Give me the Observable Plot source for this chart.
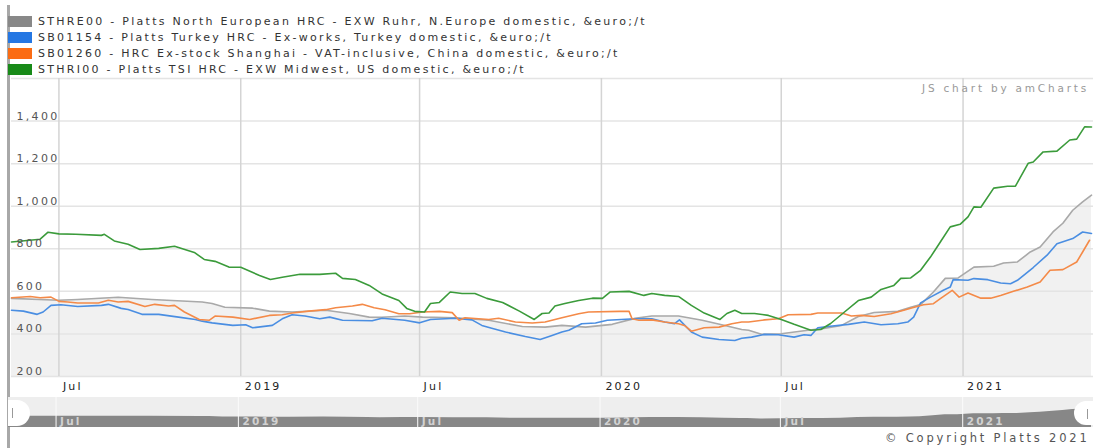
<!DOCTYPE html>
<html><head><meta charset="utf-8">
<script src="https://cdn.jsdelivr.net/npm/d3@7"></script>
<script src="https://cdn.jsdelivr.net/npm/@observablehq/plot@0.6"></script>
<style>
html,body{margin:0;padding:0;background:#fff;}
body{width:1093px;height:448px;overflow:hidden;position:relative;font-family:"DejaVu Sans",Verdana,sans-serif;}
.abs{position:absolute;}
.leg{position:absolute;left:38px;font-size:11px;letter-spacing:2.28px;color:#333;white-space:nowrap;line-height:12px;}
.sw{position:absolute;left:8px;width:24px;height:11px;}
#border{left:7px;top:5px;width:3px;height:443px;background:#a8a8a8;}
#credit{left:922px;top:82px;font-size:10.5px;letter-spacing:2.8px;color:#999;white-space:nowrap;}
#copy{left:885px;top:431px;font-size:11.5px;letter-spacing:2.8px;color:#555;white-space:nowrap;}
.handle{position:absolute;background:#fff;}
.handle i{position:absolute;top:8px;width:1px;height:10px;background:#999;}
g[aria-description="ylab"] text{letter-spacing:2.3px;}
g[aria-description="xlab"] text{letter-spacing:2.2px;}
g[aria-description="slab"] text{letter-spacing:2.2px;}
</style></head>
<body>
<div id="border" class="abs"></div>
<div id="legend"></div>
<div id="main" class="abs" style="left:11px;top:78px;"></div>
<div id="scroll" class="abs" style="left:8px;top:397px;"></div>
<div class="handle" style="left:8px;top:400px;width:22px;height:26px;border-radius:0 13px 13px 0;"><i style="left:4px"></i></div>
<div class="handle" style="left:1074px;top:401px;width:22px;height:24px;border-radius:12px 0 0 12px;"><i style="left:13px"></i></div>
<div id="credit" class="abs">JS chart by amCharts</div>
<div id="copy" class="abs">© Copyright Platts 2021</div>
<script>
// ---- data ----
const seriesNames = [
  "STHRE00 - Platts North European HRC - EXW Ruhr, N.Europe domestic, &euro;/t",
  "SB01154 - Platts Turkey HRC - Ex-works, Turkey domestic, &euro;/t",
  "SB01260 - HRC Ex-stock Shanghai - VAT-inclusive, China domestic, &euro;/t",
  "STHRI00 - Platts TSI HRC - EXW Midwest, US domestic, &euro;/t"
];
const swatchColors = ["#888888", "#2577e3", "#fb6c13", "#188a18"];
const lineColors = ["#a9a9a9", "#4a8ee2", "#f48a48", "#3b9b3b"];

const grayNE = [["2018-05-14",567],["2018-07-01",558],["2018-07-20",562],["2018-08-30",572],["2018-10-03",562],["2018-11-23",550],["2018-12-03",543],["2018-12-16",525],["2019-01-13",521],["2019-01-30",507],["2019-02-22",503],["2019-03-28",511],["2019-04-21",496],["2019-05-11",479],["2019-05-24",478],["2019-06-16",484],["2019-07-04",479],["2019-08-06",476],["2019-09-09",464],["2019-10-13",435],["2019-11-05",432],["2019-11-22",440],["2019-12-16",432],["2020-01-12",445],["2020-02-04",473],["2020-02-21",484],["2020-03-19",484],["2020-04-12",464],["2020-05-05",440],["2020-05-22",421],["2020-05-29",417],["2020-06-11",398],["2020-07-01",401],["2020-07-28",417],["2020-08-13",426],["2020-08-31",440],["2020-09-17",482],["2020-10-03",501],["2020-10-27",506],["2020-11-09",525],["2020-11-19",538],["2020-12-02",597],["2020-12-14",661],["2020-12-27",663],["2021-01-12",714],["2021-02-01",718],["2021-02-11",733],["2021-02-25",738],["2021-03-10",785],["2021-03-20",808],["2021-04-02",879],["2021-04-12",920],["2021-04-22",981],["2021-05-02",1020],["2021-05-11",1052]];

const blueTR = [["2018-05-14",511],["2018-05-26",507],["2018-06-09",492],["2018-06-15",503],["2018-06-23",534],["2018-07-03",537],["2018-07-20",529],["2018-08-13",534],["2018-08-20",539],["2018-09-02",520],["2018-09-09",515],["2018-09-23",492],["2018-10-10",492],["2018-10-30",479],["2018-11-16",468],["2018-11-23",460],["2018-12-03",452],["2018-12-24",440],["2019-01-06",443],["2019-01-13",429],["2019-02-02",440],["2019-02-12",471],["2019-02-22",490],["2019-03-07",484],["2019-03-22",471],["2019-04-01",479],["2019-04-14",464],["2019-05-14",462],["2019-05-24",474],["2019-06-16",464],["2019-07-01",452],["2019-07-12",468],["2019-08-06",474],["2019-08-23",466],["2019-09-02",440],["2019-09-12",427],["2019-09-26",409],["2019-10-16",388],["2019-10-31",374],["2019-11-12",393],["2019-11-22",409],["2019-11-29",417],["2019-12-12",448],["2019-12-26",451],["2020-01-07",464],["2020-02-04",471],["2020-02-21",471],["2020-03-05",456],["2020-03-15",448],["2020-03-20",466],["2020-04-01",409],["2020-04-12",385],["2020-04-29",374],["2020-05-15",369],["2020-05-22",380],["2020-06-01",385],["2020-06-14",398],["2020-06-28",396],["2020-07-14",385],["2020-07-24",396],["2020-07-31",393],["2020-08-07",429],["2020-08-17",435],["2020-09-07",445],["2020-09-23",456],["2020-10-10",443],["2020-10-27",448],["2020-11-06",456],["2020-11-12",479],["2020-11-19",546],["2020-11-29",573],["2020-12-12",605],["2020-12-19",620],["2020-12-22",655],["2021-01-06",652],["2021-01-12",660],["2021-01-26",655],["2021-02-08",639],["2021-02-18",636],["2021-02-25",652],["2021-03-13",712],["2021-03-27",770],["2021-04-06",824],["2021-04-22",848],["2021-05-02",879],["2021-05-11",872]];

const orangeCN = [["2018-05-14",570],["2018-06-02",576],["2018-06-12",570],["2018-06-23",573],["2018-07-01",553],["2018-07-10",550],["2018-07-20",545],["2018-08-10",545],["2018-08-20",558],["2018-08-30",550],["2018-09-09",553],["2018-09-26",529],["2018-10-06",539],["2018-10-20",531],["2018-10-26",534],["2018-11-05",503],["2018-11-20",468],["2018-11-30",464],["2018-12-06",484],["2018-12-24",479],["2019-01-10",468],["2019-01-30",487],["2019-02-12",490],["2019-02-22",498],["2019-03-11",507],["2019-03-28",514],["2019-04-07",523],["2019-04-24",531],["2019-05-04",539],["2019-05-16",523],["2019-05-27",514],["2019-06-10",495],["2019-06-21",495],["2019-07-04",503],["2019-07-21",506],["2019-08-03",500],["2019-08-10",464],["2019-08-16",476],["2019-09-09",468],["2019-09-19",474],["2019-10-06",456],["2019-10-23",451],["2019-11-05",456],["2019-11-22",476],["2019-12-09",495],["2019-12-19",503],["2020-01-19",506],["2020-01-29",506],["2020-02-01",471],["2020-02-08",464],["2020-02-21",466],["2020-03-05",456],["2020-03-19",448],["2020-03-25",440],["2020-04-01",413],["2020-04-14",429],["2020-04-29",432],["2020-05-12",448],["2020-05-22",456],["2020-05-29",456],["2020-06-14",466],["2020-06-28",471],["2020-07-08",490],["2020-07-31",492],["2020-08-07",498],["2020-08-31",498],["2020-09-10",484],["2020-09-20",487],["2020-10-03",482],["2020-10-20",495],["2020-11-02",511],["2020-11-09",521],["2020-11-22",537],["2020-12-02",542],["2020-12-09",566],["2020-12-21",605],["2020-12-28",573],["2021-01-06",592],["2021-01-19",568],["2021-01-29",568],["2021-02-08",581],["2021-02-21",600],["2021-03-07",620],["2021-03-20",644],["2021-03-30",699],["2021-04-12",702],["2021-04-26",738],["2021-05-02",785],["2021-05-09",840]];

const greenUS = [["2018-05-14",832],["2018-06-12",845],["2018-06-20",878],["2018-07-01",870],["2018-07-18",868],["2018-08-13",863],["2018-08-16",868],["2018-08-26",837],["2018-09-09",821],["2018-09-21",797],["2018-10-10",802],["2018-10-26",812],["2018-11-15",783],["2018-11-25",750],["2018-12-06",741],["2018-12-20",714],["2019-01-01",713],["2019-01-20",675],["2019-01-31",656],["2019-02-12",666],["2019-03-02",680],["2019-03-22",680],["2019-04-07",685],["2019-04-14",661],["2019-04-27",656],["2019-05-11",628],["2019-05-24",588],["2019-06-10",557],["2019-06-18",520],["2019-06-26",506],["2019-07-06",503],["2019-07-12",543],["2019-07-21",548],["2019-08-01",597],["2019-08-13",590],["2019-08-26",590],["2019-09-07",567],["2019-09-23",548],["2019-10-10",507],["2019-10-25",468],["2019-11-02",496],["2019-11-09",498],["2019-11-15",531],["2019-11-25",543],["2019-12-09",557],["2019-12-23",568],["2020-01-02",567],["2020-01-10",597],["2020-01-29",600],["2020-02-13",581],["2020-02-21",590],["2020-03-05",581],["2020-03-19",576],["2020-04-01",534],["2020-04-14",498],["2020-04-30",468],["2020-05-07",496],["2020-05-15",511],["2020-05-22",496],["2020-06-04",496],["2020-06-18",487],["2020-07-01",468],["2020-07-14",445],["2020-07-31",417],["2020-08-10",421],["2020-08-20",449],["2020-09-03",503],["2020-09-17",557],["2020-09-30",573],["2020-10-10",609],["2020-10-23",628],["2020-10-30",661],["2020-11-09",663],["2020-11-19",699],["2020-11-29",761],["2020-12-09",832],["2020-12-19",903],["2020-12-29",915],["2021-01-06",950],["2021-01-12",997],["2021-01-19",995],["2021-02-01",1085],["2021-02-15",1094],["2021-02-23",1094],["2021-03-08",1202],["2021-03-13",1208],["2021-03-23",1255],["2021-04-06",1259],["2021-04-19",1311],["2021-04-26",1315],["2021-05-04",1373],["2021-05-11",1372]];

const yTicks = [200, 400, 600, 800, 1000, 1200, 1400];
const xTickDates = ["2018-07-01","2019-01-01","2019-07-01","2020-01-01","2020-07-01","2021-01-01"];
const xTickLabels = ["Jul","2019","Jul","2020","Jul","2021"];
const xStart = "2018-05-14", xEnd = "2021-05-13";

// ---- build ----
const toRows = (arr, k) => arr.map(([d, v]) => ({date: new Date(d), value: v, k}));
const all = [grayNE, blueTR, orangeCN, greenUS].map((a, i) => toRows(a, i));
const xDomain = [new Date(xStart), new Date(xEnd)];
const ticks = xTickDates.map((d, i) => ({date: new Date(d), label: xTickLabels[i], year: /^\d{4}$/.test(xTickLabels[i])}));
const F = '"DejaVu Sans", Verdana, sans-serif';

// legend
const legend = document.getElementById("legend");
seriesNames.forEach((n, i) => {
  const cy = 21.5 + i * 16;
  const sw = document.createElement("div");
  sw.className = "sw"; sw.style.top = (cy - 5.5) + "px"; sw.style.background = swatchColors[i];
  legend.appendChild(sw);
  const t = document.createElement("div");
  t.className = "leg"; t.style.top = (cy - 6) + "px"; t.textContent = n;
  legend.appendChild(t);
});

const main = Plot.plot({
  width: 1082, height: 320,
  marginTop: 0, marginBottom: 22, marginLeft: 0, marginRight: 0,
  x: {type: "utc", domain: xDomain, axis: null},
  y: {domain: [200, 1600], axis: null},
  style: {fontFamily: F, background: "transparent", overflow: "visible"},
  marks: [
    Plot.areaY(all[0], {x: "date", y1: 200, y2: "value", fill: "#f1f1f1"}),
    Plot.ruleY(yTicks.concat([1600]), {stroke: "#e4e4e4", strokeWidth: 1.5}),
    Plot.ruleX(ticks, {x: "date", stroke: "#d4d4d4", strokeWidth: 1.5}),
    ...[0, 1, 2, 3].map(i => Plot.line(all[i], {x: "date", y: "value", stroke: lineColors[i], strokeWidth: 1.6})),
    Plot.text(yTicks, {x: () => xDomain[0], y: d => d, text: d => d3.format(",")(d), dx: 5, dy: -5, textAnchor: "start", lineAnchor: "middle", fontSize: 11, fill: "#555", ariaDescription: "ylab"}),
    Plot.text(ticks, {x: "date", frameAnchor: "bottom", text: "label", dx: 4, dy: 10, textAnchor: "start", lineAnchor: "middle", fontSize: 11, fill: "#222", fontWeight: d => d.year ? "bold" : "normal", ariaDescription: "xlab"})
  ]
});
document.getElementById("main").appendChild(main);

const scroll = Plot.plot({
  width: 1085, height: 30, margin: 0,
  x: {type: "utc", domain: xDomain, axis: null},
  y: {domain: [-140, 1740], axis: null},
  style: {fontFamily: F, background: "#eeeeee"},
  marks: [
    Plot.areaY(all[0], {x: "date", y1: -140, y2: "value", fill: "#878787"}),
    Plot.ruleX(ticks, {x: "date", stroke: "#fbfbfb", strokeWidth: 1}),
    Plot.text(ticks, {x: "date", frameAnchor: "bottom", text: "label", dx: 4, dy: -6, textAnchor: "start", lineAnchor: "middle", fontSize: 10.5, fill: "#d2d2d2", fontWeight: "bold", ariaDescription: "slab"})
  ]
});
document.getElementById("scroll").appendChild(scroll);
</script>
</body></html>
